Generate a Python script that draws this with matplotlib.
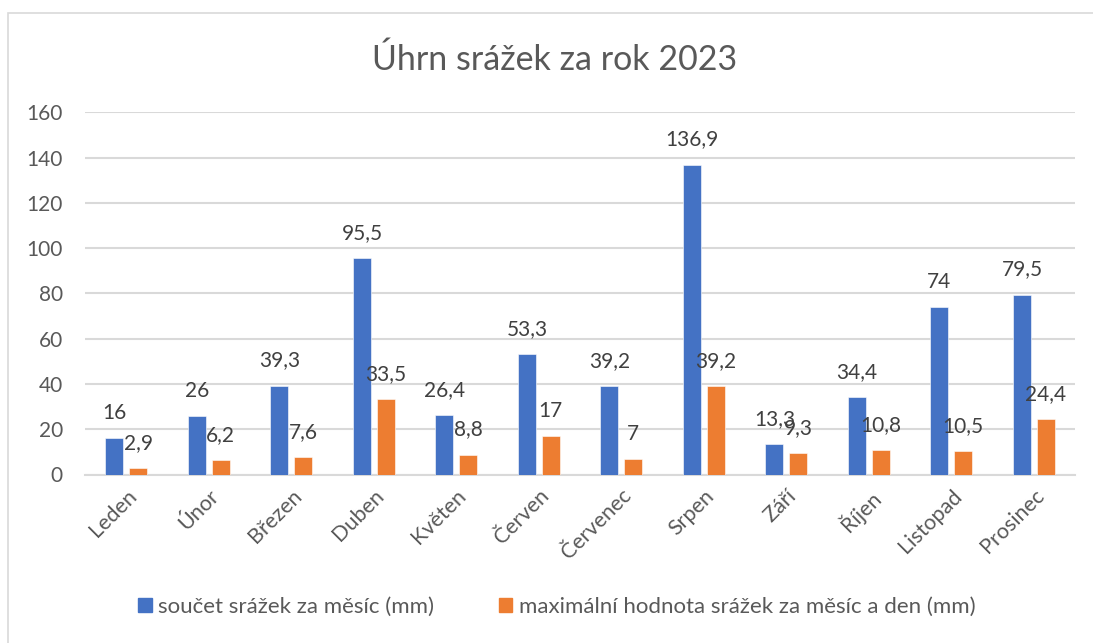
import matplotlib
matplotlib.use("Agg")
import matplotlib.pyplot as plt
import numpy as np
from matplotlib.patches import Rectangle

months = ["Leden", "Únor", "Březen", "Duben", "Květen", "Červen",
          "Červenec", "Srpen", "Září", "Říjen", "Listopad", "Prosinec"]
total_mm = [16, 26, 39.3, 95.5, 26.4, 53.3, 39.2, 136.9, 13.3, 34.4, 74, 79.5]
max_day_mm = [2.9, 6.2, 7.6, 33.5, 8.8, 17, 7, 39.2, 9.3, 10.8, 10.5, 24.4]
series_names = ["součet srážek za měsíc (mm)",
                "maximální hodnota srážek za měsíc a den (mm)"]
title = "Úhrn srážek za rok 2023"
yticks = [0, 20, 40, 60, 80, 100, 120, 140, 160]

BLUE = "#4472C4"
ORANGE = "#ED7D31"
GRID = "#D9D9D9"
TXT = "#595959"
LBL = "#404040"

plt.rcParams['font.family'] = ['Lato', 'DejaVu Sans']

W, H = 1093, 643
fig = plt.figure(figsize=(W / 100, H / 100), dpi=100)
fig.patch.set_facecolor("white")

# outer chart border
fig.add_artist(Rectangle((8 / W, -0.1), 1.2, 1 - 13 / H + 0.1,
                         transform=fig.transFigure, fill=False,
                         edgecolor=GRID, linewidth=1.2))

ax = fig.add_axes([85 / W, 1 - 474.5 / H, (1075 - 85) / W, (474.5 - 112.3) / H])
x = np.arange(len(months))
bw = 0.218
off = 0.143
b1 = ax.bar(x - off, total_mm, bw, color=BLUE, edgecolor="white", linewidth=0.4, zorder=3)
b2 = ax.bar(x + off, max_day_mm, bw, color=ORANGE, edgecolor="white", linewidth=0.4, zorder=3)

def fmt(v):
    s = ("%g" % v)
    return s.replace(".", ",")

for bars, vals in ((b1, total_mm), (b2, max_day_mm)):
    for r, v in zip(bars, vals):
        ax.annotate(fmt(v), (r.get_x() + r.get_width() / 2, v),
                    xytext=(0, 18), textcoords="offset points",
                    ha="center", va="center", fontsize=15, color=LBL, zorder=5)

ax.set_xlim(-0.5, len(months) - 0.5)
ax.set_ylim(0, 160)
ax.set_yticks(yticks)
ax.set_yticklabels([str(t) for t in yticks])
ax.yaxis.grid(True, color=GRID, linewidth=1.5, zorder=0)
ax.set_axisbelow(True)
for s in ["top", "right", "left"]:
    ax.spines[s].set_visible(False)
ax.spines["bottom"].set_color(GRID)
ax.spines["bottom"].set_linewidth(1.5)
ax.tick_params(axis="y", length=0, pad=16, labelsize=15, labelcolor=TXT)
ax.tick_params(axis="x", length=0, pad=8, labelsize=15.5, labelcolor=TXT)
ax.set_xticks(x)
ax.set_xticklabels(months, rotation=45, ha="right", va="top", rotation_mode="anchor")

fig.text(555 / W, 1 - 60 / H, title, ha="center", va="center", fontsize=24.5, color=TXT)

handles = [Rectangle((0, 0), 1, 1, color=BLUE), Rectangle((0, 0), 1, 1, color=ORANGE)]
fig.legend(handles, series_names, loc="center", bbox_to_anchor=(557 / W, 1 - 607 / H),
           ncol=2, frameon=False, fontsize=16, handlelength=0.6, handleheight=0.6,
           handletextpad=0.3, columnspacing=2.9, labelcolor=TXT)

fig.savefig("out.png", dpi=100)
